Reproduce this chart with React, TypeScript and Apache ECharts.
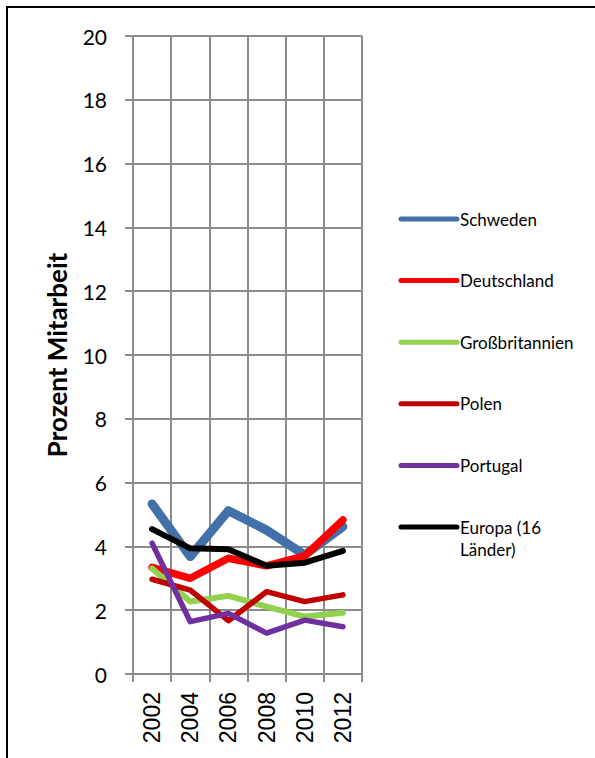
import React, { useEffect, useRef } from "react";
import * as echarts from "echarts";

const years = ["2002", "2004", "2006", "2008", "2010", "2012"];
const yTicks = { min: 0, max: 20, interval: 2 };

const seriesNames = ["Schweden", "Deutschland", "Großbritannien", "Polen", "Portugal", "Europa (16 Länder)"];
const legendLabels = ["Schweden", "Deutschland", "Großbritannien", "Polen", "Portugal", "Europa (16\nLänder)"];
const seriesColors = ["#4270A8", "#FF0000", "#92D050", "#C00000", "#7030A0", "#000000"];
const seriesWidths = [9, 7.5, 6, 5.5, 5.5, 6];

const schweden = [5.33, 3.68, 5.12, 4.51, 3.73, 4.62];
const deutschland = [3.34, 3.0, 3.63, 3.39, 3.7, 4.83];
const grossbritannien = [3.31, 2.27, 2.45, 2.11, 1.8, 1.92];
const polen = [2.97, 2.63, 1.67, 2.58, 2.27, 2.48];
const portugal = [4.1, 1.64, 1.9, 1.28, 1.69, 1.48];
const europa = [4.54, 3.94, 3.91, 3.39, 3.49, 3.86];

const seriesValues = [schweden, deutschland, grossbritannien, polen, portugal, europa];

export default function App() {
  const ref = useRef<HTMLDivElement>(null);
  useEffect(() => {
    if (!ref.current) return;
    const chart = echarts.init(ref.current, undefined, { renderer: "svg" });
    const grid = "#8c8c8c";
    const legendX = 401;
    const legendY0 = 219;
    const legendStep = 61.6;
    const legendGraphics: any[] = [];
    legendLabels.forEach((lab, i) => {
      const y = legendY0 + i * legendStep;
      legendGraphics.push({
        type: "line",
        shape: { x1: legendX, y1: y, x2: legendX + 56, y2: y },
        style: { stroke: seriesColors[i], lineWidth: 5, lineCap: "round" },
      });
      legendGraphics.push({
        type: "text",
        x: legendX + 59,
        y: y - 11,
        style: {
          text: lab,
          fill: "#000",
          font: "17px Lato",
          lineHeight: 22,
          verticalAlign: "top",
        },
      });
    });
    chart.setOption({
      animation: false,
      grid: { left: 133, top: 36, width: 229, height: 638 },
      xAxis: {
        type: "category",
        data: years,
        boundaryGap: true,
        axisLine: { show: true, lineStyle: { color: grid, width: 2 } },
        axisTick: { show: true, length: 8, lineStyle: { color: grid, width: 2 } },
        splitLine: { show: true, lineStyle: { color: grid, width: 2 } },
        axisLabel: {
          rotate: 90,
          margin: 18,
          color: "#000",
          fontSize: 23,
          fontFamily: "Liberation Sans",
        },
      },
      yAxis: {
        type: "value",
        min: yTicks.min,
        max: yTicks.max,
        interval: yTicks.interval,
        name: "Prozent Mitarbeit",
        nameLocation: "middle",
        nameRotate: 90,
        nameGap: 63,
        nameTextStyle: { fontFamily: "Lato", fontWeight: "bold", fontSize: 26, color: "#000" },
        axisLine: { show: true, lineStyle: { color: grid, width: 2 } },
        axisTick: { show: true, length: 8, lineStyle: { color: grid, width: 2 } },
        splitLine: { show: true, lineStyle: { color: grid, width: 2 } },
        axisLabel: { margin: 26, color: "#000", fontSize: 21, fontFamily: "Lato" },
      },
      series: seriesNames.map((name, i) => ({
        name,
        type: "line",
        data: seriesValues[i],
        symbol: "none",
        lineStyle: { color: seriesColors[i], width: seriesWidths[i], cap: "round", join: "round" },
        itemStyle: { color: seriesColors[i] },
      })),
      graphic: [
        {
          type: "polyline",
          shape: { points: [[7, 758], [7, 7], [595, 7]] },
          style: { stroke: "#000", lineWidth: 2, fill: "none" },
        },
        ...legendGraphics,
      ],
    });
    return () => chart.dispose();
  }, []);
  return (
    <div
      ref={ref}
      style={{ position: "absolute", left: 0, top: 0, width: 595, height: 758, background: "#fff" }}
    />
  );
}
